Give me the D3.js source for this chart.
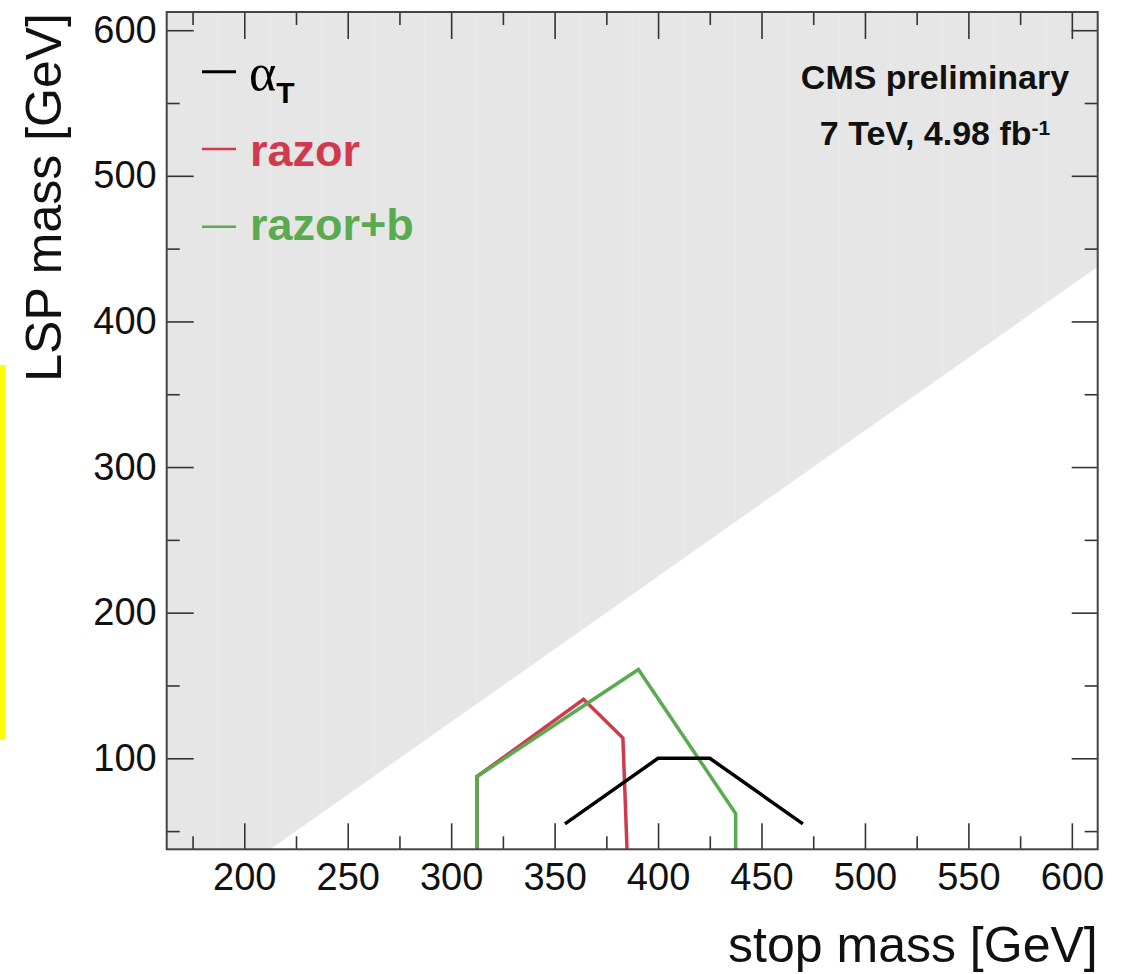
<!DOCTYPE html>
<html><head><meta charset="utf-8">
<script src="https://cdn.jsdelivr.net/npm/d3@7"></script>
<style>body{margin:0;background:#fff}svg{display:block}</style>
</head><body>
<svg id="c" width="1121" height="974"></svg>
<script>
// ---- data ----
const alphaTStop = [355, 400, 425, 470];
const alphaTLsp  = [55, 100, 100, 55];
const razorStop  = [312.5, 312.5, 364, 383, 385];
const razorLsp   = [37.5, 87.5, 140.5, 114, 37.5];
const razorBStop = [312.5, 312.5, 390.5, 437.5, 437.5];
const razorBLsp  = [37.5, 87.5, 161, 62, 37.5];
// kinematically forbidden region (mLSP > mstop - mtop)
const forbidStop = [162.5, 212.5, 612.5, 612.5, 162.5];
const forbidLsp  = [37.5, 37.5, 437.5, 612.5, 612.5];
const xMajor = [200, 250, 300, 350, 400, 450, 500, 550, 600];
const xMinor = [175, 225, 275, 325, 375, 425, 475, 525, 575];
const yMajor = [100, 200, 300, 400, 500, 600];
const yMinor = [50, 150, 250, 350, 450, 550];
const binEdges = [187.5, 212.5, 237.5, 262.5, 287.5, 312.5, 337.5, 362.5, 387.5, 412.5, 437.5, 462.5, 487.5, 512.5, 537.5, 562.5, 587.5];
const legendLabels = ["razor", "razor+b"];

const RED = "#cf3a4d", GREEN = "#5aab50";
const FONT = "'Liberation Sans', Arial, Helvetica, sans-serif";

const svg = d3.select("#c");
const X0 = 166.7, X1 = 1097.7, Y0 = 849.3, Y1 = 12;
const x = d3.scaleLinear().domain([162.5, 612.5]).range([X0, X1]);
const y = d3.scaleLinear().domain([37.5, 612.5]).range([Y0, Y1]);

// yellow artifact strip on the left edge
svg.append("rect").attr("x", 0).attr("y", 365).attr("width", 5).attr("height", 375).attr("fill", "#ffff00");

// forbidden region
const poly = forbidStop.map((s, i) => [x(s), y(forbidLsp[i])]);
svg.append("clipPath").attr("id", "fc").append("polygon").attr("points", poly.map(p => p.join(",")).join(" "));
svg.append("polygon").attr("points", poly.map(p => p.join(",")).join(" ")).attr("fill", "#e6e6e6");
svg.append("g").attr("clip-path", "url(#fc)").selectAll("line").data(binEdges).join("line")
  .attr("x1", d => x(d)).attr("x2", d => x(d)).attr("y1", Y1).attr("y2", Y0)
  .attr("stroke", "#ebebeb").attr("stroke-width", 1);

// curves
const line = d3.line().x(d => x(d[0])).y(d => y(d[1]));
function drawCurve(s, l, color, w) {
  svg.append("path").datum(s.map((v, i) => [v, l[i]])).attr("d", line)
    .attr("fill", "none").attr("stroke", color).attr("stroke-width", w).attr("stroke-linejoin", "miter");
}
drawCurve(razorStop, razorLsp, RED, 3.5);
drawCurve(razorBStop, razorBLsp, GREEN, 3.5);
drawCurve(alphaTStop, alphaTLsp, "#000", 3.5);

// axes
function styleAxis(g) {
  g.select(".domain").remove();
  g.selectAll("line").attr("stroke", "#333").attr("stroke-width", 1.6);
  g.selectAll("text").attr("font-family", FONT).attr("font-size", 38).attr("fill", "#111");
}
svg.append("g").attr("transform", `translate(0,${Y0})`)
  .call(d3.axisBottom(x).tickValues(xMajor).tickSize(-26).tickPadding(14).tickFormat(d3.format("d"))).call(styleAxis);
svg.append("g").attr("transform", `translate(0,${Y0})`)
  .call(d3.axisBottom(x).tickValues(xMinor).tickSize(-13).tickFormat("")).call(styleAxis);
svg.append("g").attr("transform", `translate(0,${Y1})`)
  .call(d3.axisTop(x).tickValues(xMajor).tickSize(-27).tickFormat("")).call(styleAxis);
svg.append("g").attr("transform", `translate(0,${Y1})`)
  .call(d3.axisTop(x).tickValues(xMinor).tickSize(-13).tickFormat("")).call(styleAxis);
svg.append("g").attr("transform", `translate(${X0},0)`)
  .call(d3.axisLeft(y).tickValues(yMajor).tickSize(-27).tickPadding(10).tickFormat(d3.format("d"))).call(styleAxis);
svg.append("g").attr("transform", `translate(${X0},0)`)
  .call(d3.axisLeft(y).tickValues(yMinor).tickSize(-13).tickFormat("")).call(styleAxis);
svg.append("g").attr("transform", `translate(${X1},0)`)
  .call(d3.axisRight(y).tickValues(yMajor).tickSize(-26).tickFormat("")).call(styleAxis);
svg.append("g").attr("transform", `translate(${X1},0)`)
  .call(d3.axisRight(y).tickValues(yMinor).tickSize(-13).tickFormat("")).call(styleAxis);

// frame
svg.append("rect").attr("x", X0).attr("y", Y1).attr("width", X1 - X0).attr("height", Y0 - Y1)
  .attr("fill", "none").attr("stroke", "#444").attr("stroke-width", 2);

// axis titles
svg.append("text").attr("x", X1).attr("y", 962).attr("text-anchor", "end")
  .attr("font-family", FONT).attr("font-size", 50).attr("fill", "#111").text("stop mass [GeV]");
svg.append("text").attr("transform", `translate(61,${Y1 + 1}) rotate(-90)`).attr("text-anchor", "end")
  .attr("font-family", FONT).attr("font-size", 50).attr("fill", "#111").text("LSP mass [GeV]");

// legend
const lg = svg.append("g");
lg.append("line").attr("x1", 202).attr("x2", 236).attr("y1", 71.7).attr("y2", 71.7).attr("stroke", "#000").attr("stroke-width", 3);
const at = lg.append("text").attr("x", 249).attr("y", 90).attr("fill", "#000");
at.append("tspan").attr("font-family", "'Liberation Serif', 'Times New Roman', serif").attr("font-size", 52).text("α");
at.append("tspan").attr("font-family", FONT).attr("font-weight", "bold").attr("font-size", 30).attr("dy", 13).text("T");
[[149, 166, RED], [226.7, 240, GREEN]].forEach((r, i) => {
  lg.append("line").attr("x1", 202).attr("x2", 236).attr("y1", r[0]).attr("y2", r[0]).attr("stroke", r[2]).attr("stroke-width", 2.5);
  lg.append("text").attr("x", 250).attr("y", r[1]).attr("fill", r[2]).attr("font-family", FONT)
    .attr("font-weight", "bold").attr("font-size", 45).text(legendLabels[i]);
});

// CMS label
svg.append("text").attr("x", 935).attr("y", 89).attr("text-anchor", "middle").attr("font-family", FONT)
  .attr("font-weight", "bold").attr("font-size", 34).attr("fill", "#111").text("CMS preliminary");
const t2 = svg.append("text").attr("x", 935).attr("y", 145).attr("text-anchor", "middle").attr("font-family", FONT)
  .attr("font-weight", "bold").attr("font-size", 34).attr("fill", "#111");
t2.append("tspan").text("7 TeV, 4.98 fb");
t2.append("tspan").attr("font-size", 21).attr("dy", -10).text("-1");
</script>
</body></html>
